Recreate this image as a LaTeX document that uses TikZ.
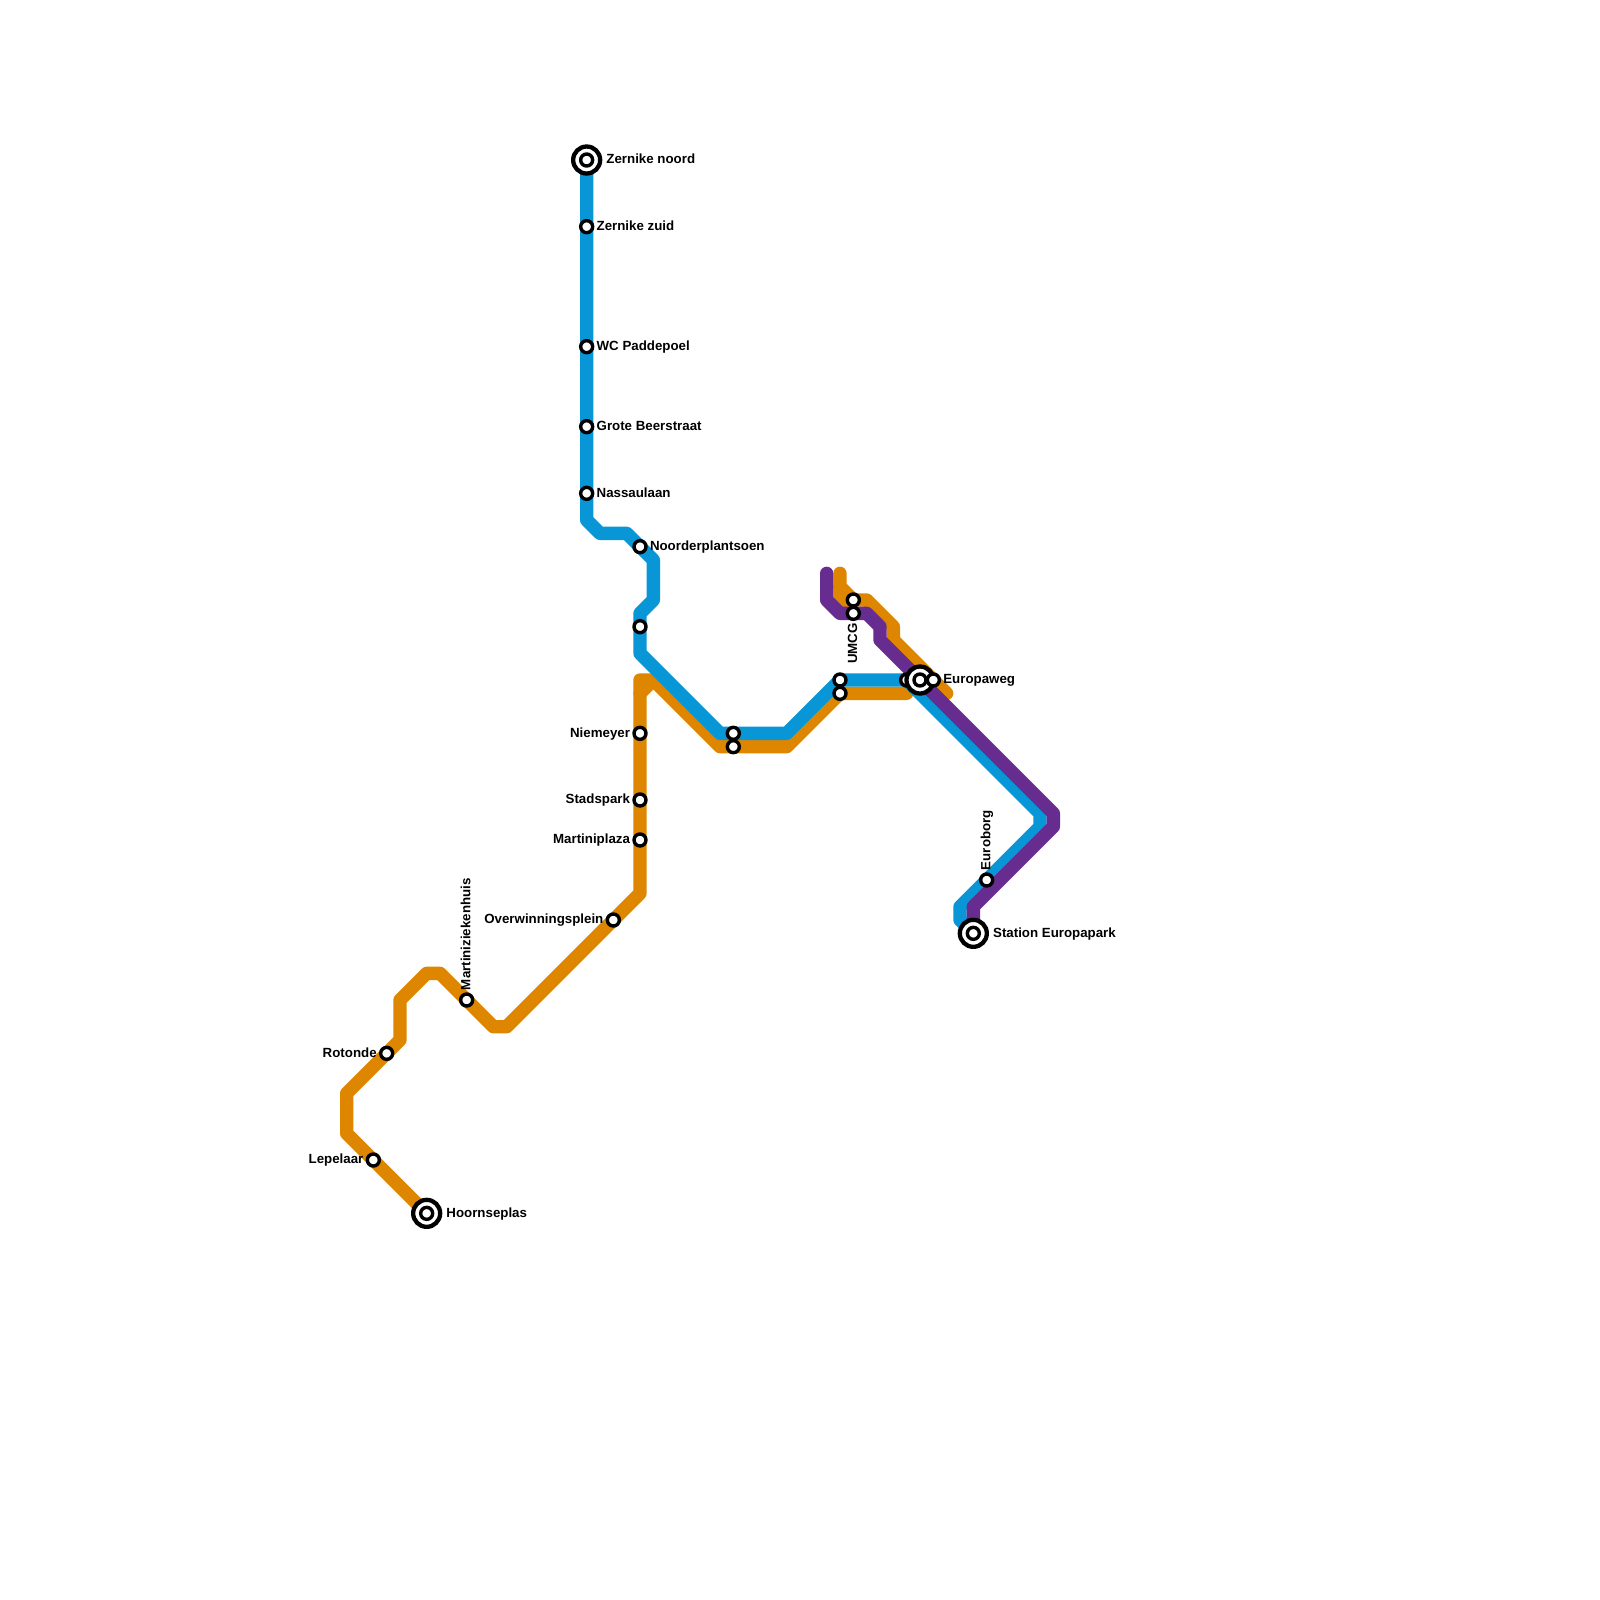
\documentclass[tikz,border=0pt]{standalone}
\usepackage{fontspec}
\setmainfont{Liberation Sans}
\definecolor{lblue}{HTML}{0896D7}
\definecolor{lorange}{HTML}{DF8600}
\definecolor{lpurple}{HTML}{662C90}
\tikzset{
  metro/.style={line width=6.667pt,line join=round,line cap=round},
  stop/.style={circle,draw=black,fill=white,line width=1.7pt,minimum size=6pt,inner sep=0pt},
  bigstop/.style={circle,draw=black,fill=white,line width=2.15pt,minimum size=13.5pt,inner sep=0pt},
  hub/.style={circle,draw=black,fill=white,line width=1.7pt,minimum size=6pt,inner sep=0pt},
  lab/.style={font=\bfseries\fontsize{6.65pt}{7.5pt}\selectfont,text=black,inner sep=0pt,text height=4.8pt,text depth=0pt},
  labr/.style={lab,anchor=west},
  labl/.style={lab,anchor=east},
  labu/.style={lab,rotate=90,anchor=west},
  labd/.style={lab,rotate=90,anchor=east}
}
\begin{document}
\begin{tikzpicture}[x=6.6667pt,y=-6.6667pt]
\useasboundingbox (0,0) rectangle (120,120);
\fill[white] (0,0) rectangle (120,120);
% orange A bends
\coordinate (oa1) at (32,91);\coordinate (oa2) at (26,85);\coordinate (oa3) at (26,82);
\coordinate (oa4) at (30,78);\coordinate (oa5) at (30,75);\coordinate (oa6) at (32,73);
\coordinate (oa7) at (33,73);\coordinate (oa8) at (37,77);\coordinate (oa9) at (38,77);
\coordinate (oa10) at (48,67);\coordinate (oa11) at (48,51);\coordinate (oa12) at (49,51);
\coordinate (oa13) at (54,56);\coordinate (oa14) at (59,56);\coordinate (oa15) at (63,52);
\coordinate (oa16) at (68,52);\coordinate (oa17) at (48,52);
% orange B bends
\coordinate (ob1) at (63,43);\coordinate (ob2) at (63,44);\coordinate (ob3) at (64,45);
\coordinate (ob4) at (65,45);\coordinate (ob5) at (67,47);\coordinate (ob6) at (67,48);
\coordinate (ob7) at (71,52);\coordinate (ob8) at (63,45);\coordinate (ob9) at (64,46);
% blue bends
\coordinate (b1) at (44,12);\coordinate (b2) at (44,39);\coordinate (b3) at (45,40);
\coordinate (b4) at (47,40);\coordinate (b5) at (49,42);\coordinate (b6) at (49,45);
\coordinate (b7) at (48,46);\coordinate (b8) at (48,49);\coordinate (b9) at (54,55);
\coordinate (b10) at (59,55);\coordinate (b11) at (63,51);\coordinate (b12) at (68,51);
\coordinate (b13) at (78,61);\coordinate (b14) at (78,62);\coordinate (b15) at (72,68);
\coordinate (b16) at (72,69);\coordinate (b17) at (73,70);
% purple bends
\coordinate (p1) at (62,43);\coordinate (p2) at (62,45);\coordinate (p3) at (63,46);
\coordinate (p4) at (65,46);\coordinate (p5) at (66,47);\coordinate (p6) at (66,48);
\coordinate (p7) at (79,61);\coordinate (p8) at (79,62);\coordinate (p9) at (73,68);
\coordinate (p10) at (73,70);
% lines
\draw[metro,lorange] (oa1)--(oa2)--(oa3)--(oa4)--(oa5)--(oa6)--(oa7)--(oa8)--(oa9)--(oa10)--(oa11)--(oa12)--(oa13)--(oa14)--(oa15)--(oa16);
\draw[metro,lorange] (oa17)--(oa12);
\draw[metro,lorange] (ob1)--(ob2)--(ob3)--(ob4)--(ob5)--(ob6)--(ob7);
\draw[metro,lorange] (ob2)--(ob8)--(ob9);
\draw[metro,lblue] (b1)--(b2)--(b3)--(b4)--(b5)--(b6)--(b7)--(b8)--(b9)--(b10)--(b11)--(b12)--(b13)--(b14)--(b15)--(b16)--(b17);
\draw[metro,lpurple] (p1)--(p2)--(p3)--(p4)--(p5)--(p6)--(p7)--(p8)--(p9)--(p10);
% small stops
\node[stop] (s1) at (44,17) {};
\node[stop] (s2) at (44,26) {};
\node[stop] (s3) at (44,32) {};
\node[stop] (s4) at (44,37) {};
\node[stop] (s5) at (48,41) {};
\node[stop] (s6) at (48,47) {};
\node[stop] (s7) at (48,55) {};
\node[stop] (s8) at (48,60) {};
\node[stop] (s9) at (48,63) {};
\node[stop] (s10) at (46,69) {};
\node[stop] (s11) at (35,75) {};
\node[stop] (s12) at (29,79) {};
\node[stop] (s13) at (28,87) {};
\node[stop] (s14) at (55,55) {};
\node[stop] (s15) at (55,56) {};
\node[stop] (s16) at (63,51) {};
\node[stop] (s17) at (63,52) {};
\node[stop] (s18) at (64,45) {};
\node[stop] (s19) at (64,46) {};
\node[stop] (s20) at (68,51) {};
\node[stop] (s21) at (74,66) {};
% terminal stops
\foreach \n/\p in {t1/{44,12},t2/{32,91},t3/{73,70},t4/{69,51}}{
  \node[bigstop] (\n) at (\p) {};
  \node[hub] (\n c) at (\p) {};
}
\node[stop] (s22) at (70,51) {};
% labels
\node[labr] (l1) at ([xshift=9.7pt,yshift=0.5pt]t1.center) {Zernike noord};
\node[labr] (l2) at ([xshift=4.8pt,yshift=0.5pt]s1.center) {Zernike zuid};
\node[labr] (l3) at ([xshift=4.8pt,yshift=0.5pt]s2.center) {WC Paddepoel};
\node[labr] (l4) at ([xshift=4.8pt,yshift=0.5pt]s3.center) {Grote Beerstraat};
\node[labr] (l5) at ([xshift=4.8pt,yshift=0.5pt]s4.center) {Nassaulaan};
\node[labr] (l6) at ([xshift=4.8pt,yshift=0.5pt]s5.center) {Noorderplantsoen};
\node[labl] (l7) at ([xshift=-4.8pt,yshift=0.5pt]s7.center) {Niemeyer};
\node[labl] (l8) at ([xshift=-4.8pt,yshift=0.5pt]s8.center) {Stadspark};
\node[labl] (l9) at ([xshift=-4.8pt,yshift=0.5pt]s9.center) {Martiniplaza};
\node[labl] (l10) at ([xshift=-4.8pt,yshift=0.5pt]s10.center) {Overwinningsplein};
\node[labu] (l11) at ([xshift=-0.5pt,yshift=4.8pt]s11.center) {Martiniziekenhuis};
\node[labl] (l12) at ([xshift=-4.8pt,yshift=0.5pt]s12.center) {Rotonde};
\node[labl] (l13) at ([xshift=-4.8pt,yshift=0.5pt]s13.center) {Lepelaar};
\node[labr] (l14) at ([xshift=9.7pt,yshift=0.5pt]t2.center) {Hoornseplas};
\node[labr] (l15) at ([xshift=9.7pt,yshift=0.5pt]t3.center) {Station Europapark};
\node[labu] (l16) at ([xshift=-0.5pt,yshift=4.8pt]s21.center) {Euroborg};
\node[labr] (l17) at ([xshift=4.8pt,yshift=0.5pt]s22.center) {Europaweg};
\node[labd] (l18) at ([xshift=-0.5pt,yshift=-4.8pt]s19.center) {UMCG};
\end{tikzpicture}
\end{document}
